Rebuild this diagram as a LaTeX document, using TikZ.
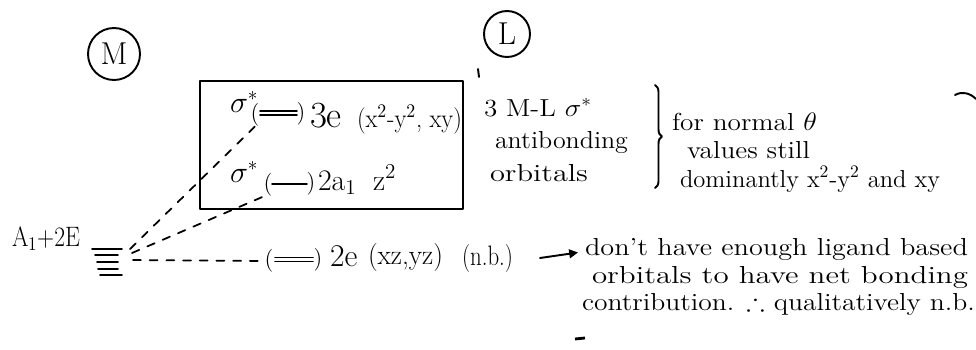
\documentclass[tikz,border=0pt]{standalone}
\usepackage{amssymb}
\usepackage{graphicx}
\usetikzlibrary{arrows.meta,decorations.pathreplacing}
\newcommand{\fitw}[2]{\resizebox{#1}{\height}{#2}}
\newcommand{\fsz}[1]{\fontsize{#1}{#1}\selectfont}
\begin{document}
\begin{tikzpicture}[x=0.02cm,y=-0.02cm,
  every node/.style={inner sep=0pt, outer sep=0pt},
  hw/.style={font=\fsz{14}, anchor=base west},
  ink/.style={line width=1.1pt, line cap=round, line join=round},
  dashy/.style={line width=1pt, dash pattern=on 4.5pt off 5pt, line cap=round},
  levbox/.style={minimum height=0.08cm},
  paren/.style={font=\fsz{13}},
  circ/.style={draw, circle, ink, font=\fsz{18}}
]
\fill[white] (0,0) rectangle (976,349);
\useasboundingbox (0,0) rectangle (976,349);

% circled labels
\node[circ, minimum size=1.04cm] (Mc) at (114,54) {M};
\node[circ, minimum size=0.92cm] (Lc) at (507,34) {L};

% box of antibonding orbitals
\node[draw, ink, minimum width=5.26cm, minimum height=2.56cm] (box) at (331.5,145) {};

% metal d set
\node[minimum width=0.6cm, minimum height=0.52cm] (stack) at (107,262) {};
\draw[ink] (stack.north west) -- (stack.north east)
  ([xshift=0.06cm,yshift=-0.12cm]stack.north west) -- ([xshift=-0.08cm,yshift=-0.12cm]stack.north east)
  ([xshift=0.10cm,yshift=-0.26cm]stack.north west) -- ([xshift=-0.08cm,yshift=-0.26cm]stack.north east)
  ([xshift=0.12cm,yshift=-0.40cm]stack.north west) -- ([xshift=-0.08cm,yshift=-0.40cm]stack.north east)
  ([xshift=0.16cm]stack.south west) -- (stack.south east);
\node[hw, font=\fsz{16}] (A12E) at (12,246) {\fitw{1.36cm}{A$_1$+2E}};

% level 3e
\node[levbox, minimum width=0.74cm] (e3) at (278.5,113) {};
\draw[ink] (e3.north west) -- (e3.north east) (e3.south west) -- (e3.south east);
\node[paren] (e3L) at (255,115) {(};
\node[paren] (e3R) at (301,114) {)};
\node[hw, font=\fsz{16}] (s1) at (230,112) {$\sigma^{*}$};
\node[hw, font=\fsz{21}] (t3e) at (310,127) {3e};
\node[hw, font=\fsz{15}] (t3eo) at (357,127) {\fitw{2.10cm}{(x$^2$-y$^2$, xy)}};

% level 2a1
\node[levbox, minimum width=0.70cm, minimum height=0pt] (a1) at (289.5,184) {};
\draw[ink] (a1.west) -- (a1.east);
\node[paren] (a1L) at (268,185) {(};
\node[paren] (a1R) at (311,184) {)};
\node[hw, font=\fsz{16}] (s2) at (230,182) {$\sigma^{*}$};
\node[hw, font=\fsz{17}] (t2a) at (318,190) {2a$_1$};
\node[hw, font=\fsz{17}] (tz2) at (373,190) {z$^2$};

% level 2e
\node[levbox, minimum width=0.76cm] (e2) at (294,259.5) {};
\draw[ink] (e2.north west) -- (e2.north east) (e2.south west) -- (e2.south east);
\node[paren] (e2L) at (269,261) {(};
\node[paren] (e2R) at (318,260) {)};
\node[hw, font=\fsz{18}] (t2e) at (330,266) {2e};
\node[hw, font=\fsz{16}] (t2eo) at (368,264) {\fitw{1.50cm}{(xz,yz)}};
\node[hw, font=\fsz{16}] (nb) at (462,265) {\fitw{1.02cm}{(n.b.)}};

% correlation lines
\draw[dashy] ([xshift=0.16cm]stack.north east) -- (e3L.south);
\draw[dashy] ([xshift=0.20cm,yshift=-0.08cm]stack.north east) -- (a1L.south west);
\draw[dashy] ([xshift=0.22cm,yshift=0.04cm]stack.east) -- (e2L.west);

% annotations beside box
\node[hw] (ml1) at (484,116) {\fitw{2.16cm}{3 M-L $\sigma^{*}$}};
\node[hw] (ml2) at (495,148) {\fitw{2.66cm}{antibonding}};
\node[hw] (ml3) at (490,181) {\fitw{1.96cm}{orbitals}};
\draw[ink, decorate, decoration={brace, amplitude=0.14cm}] (655,85) -- (655,188) coordinate (brtip);
\node[hw] (fn1) at (672,130) {\fitw{2.90cm}{for normal $\theta$}};
\node[hw] (fn2) at (687,158) {\fitw{2.46cm}{values still}};
\node[hw] (fn3) at (680,187) {\fitw{5.20cm}{dominantly x$^2$-y$^2$ and xy}};
\draw[ink] (955,95) .. controls (962,91) and (970,93) .. (976,99);

% non-bonding remark
\node[hw] (an1) at (585,255) {\fitw{7.66cm}{don't have enough ligand based}};
\node[hw] (an2) at (592,283) {\fitw{7.52cm}{orbitals to have net bonding}};
\node[hw] (an3) at (582,310) {\fitw{7.86cm}{contribution. $\therefore$ qualitatively n.b.}};
\coordinate (arrS) at (540,258);
\draw[ink, -{Triangle[length=5pt,width=5pt]}] (arrS) -- ([xshift=-0.14cm,yshift=0.05cm]an1.base west);

% stray marks
\draw[ink] (478,69) -- (479,77);
\draw[line width=1.6pt] (575,339) -- (585,338);
\end{tikzpicture}
\end{document}
